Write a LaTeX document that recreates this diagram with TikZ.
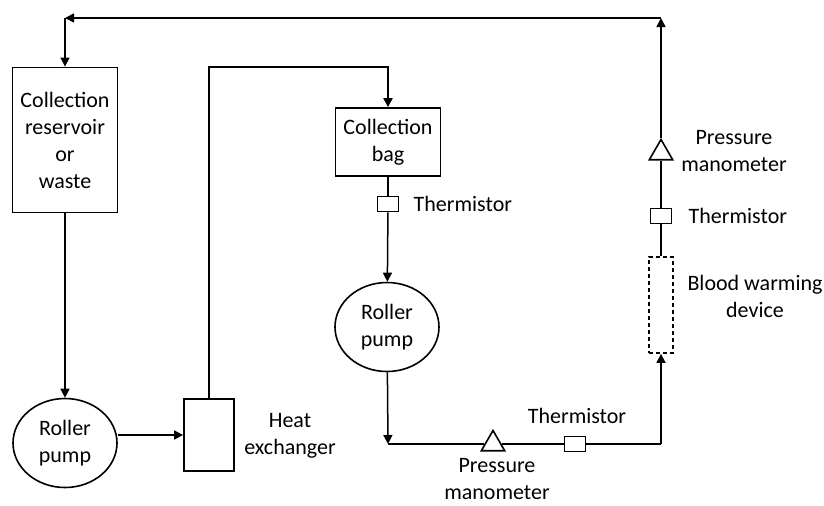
\documentclass[tikz,border=0pt]{standalone}
\usepackage{fontspec}
\setmainfont{Carlito}
\usetikzlibrary{arrows.meta,positioning,shapes.geometric}

\begin{document}
\begin{tikzpicture}[x=0.5pt,y=-0.5pt,
  every node/.style={font=\fontsize{11}{13.5}\selectfont},
  unit/.style={draw,line width=0.9pt,fill=white,inner sep=0pt,align=center},
  pump/.style={draw,line width=0.8pt,ellipse,inner sep=0pt,align=center,
               minimum width=52pt,minimum height=44.5pt},
  therm/.style={draw,line width=0.8pt,fill=white,inner sep=0pt,
                minimum width=10.5pt,minimum height=7.5pt},
  mano/.style={draw,line width=0.8pt,fill=white,regular polygon,
               regular polygon sides=3,inner sep=0pt,minimum size=13.5pt},
  lbl/.style={inner sep=0pt,align=center},
  pipe/.style={line width=0.75pt},
  pipethick/.style={line width=1.3pt},
  arr/.style={pipe,-{Triangle[length=4.5pt,width=4.5pt]}}]
\useasboundingbox (0,0) rectangle (824,505);
%--- Left loop ---
\node[unit,minimum width=52.5pt,minimum height=72.5pt] (res) at (65,140) {Collection\\reservoir\\or\\waste};
\node[pump] (lp)  at (65,443) {Roller\\pump};
\node[unit,minimum width=25pt,minimum height=36pt] (hx) at (209,435) {};
\node[lbl] (hxlbl) at (290,436) {Heat\\exchanger};
%--- Middle column ---
\node[unit,minimum width=52.5pt,minimum height=34pt] (bag) at (388,142) {Collection\\bag};
\node[therm] (th1) at (388,204) {};
\node[lbl,right=7pt of th1] (th1lbl) {Thermistor};
\node[pump] (mp)  at (387,327) {Roller\\pump};
\coordinate (bl) at (388,444);
%--- Bottom line ---
\node[mano] (pm1) at (493,444) {};
\node[lbl] (pm1lbl) at (497,479) {Pressure\\manometer};
\node[therm] (th2) at (575,444) {};
\node[lbl] (th2lbl) at (577,416) {Thermistor};
\coordinate (br) at (661,444);
%--- Right column ---
\node[unit,dash pattern=on 2pt off 1.5pt,minimum width=12pt,minimum height=48pt] (bw) at (661,305) {};
\node[lbl] (bwlbl) at (755,296) {Blood warming\\device};
\node[therm] (th3) at (661,216) {};
\node[lbl,right=8pt of th3] (th3lbl) {Thermistor};
\node[mano] (pm2) at (661,153) {};
\node[lbl] (pm2lbl) at (734,151) {Pressure\\manometer};
\coordinate (tr) at (661,18);
\coordinate (tl) at (65,18);
\coordinate (hxbend) at (209,67);
%--- Connectors ---
\draw[arr] (res) -- (lp);
\draw[arr] (lp.east |- hx.west) -- (hx.west);
\draw[arr,line width=1.1pt] (hx.north) -- (hxbend) -| (bag.north);
\draw[pipe] (bag) -- (th1);
\draw[arr] (th1) -- (mp);
\draw[arr] (mp) -- (bl);
\draw[pipethick] (bl) -- (pm1) -- (th2) -- (br);
\draw[arr] (br) -- (bw);
\draw[pipe] (bw) -- (th3) -- (pm2);
\draw[arr] (pm2) -- (tr);
\draw[arr] (tr) -- (tl);
\draw[arr] (tl) -- (res);
\end{tikzpicture}
\end{document}
